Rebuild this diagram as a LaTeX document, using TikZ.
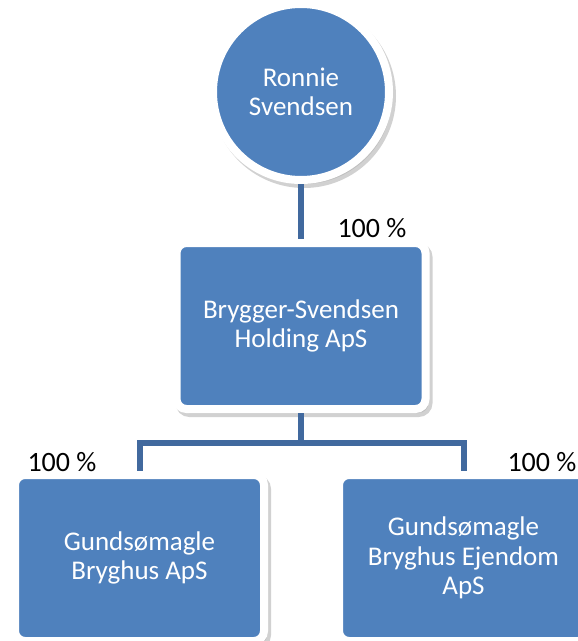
\documentclass[tikz,border=0pt]{standalone}
\usepackage{fontspec}
\setmainfont{Carlito}
\usetikzlibrary{shadows}
\definecolor{boxblue}{RGB}{79,129,189}
\definecolor{lineblue}{RGB}{65,105,158}

\begin{document}
\begin{tikzpicture}[x=1pt,y=-1pt,
  entity/.style={fill=boxblue,draw=white,line width=8pt,text=white,align=center,
    font=\fontsize{27}{29.5}\selectfont,
    drop shadow={draw=black,line width=8pt,shadow xshift=3pt,shadow yshift=-4pt,opacity=.18}},
  company/.style={entity,rectangle,rounded corners=10pt,minimum width=249pt,minimum height=166pt,inner sep=0pt},
  person/.style={entity,circle,minimum size=176pt,inner sep=0pt},
  owns/.style={draw=lineblue,line width=6pt},
  pct/.style={font=\fontsize{28}{30}\selectfont}]
\useasboundingbox (0,0) rectangle (578,641);

\node[person] (ronnie) at (301,92) {Ronnie\\Svendsen};
\node[company] (holding) at (301,326) {Brygger-Svendsen\\Holding ApS};
\node[company] (bryghus) at (139.5,558) {Gundsømagle\\Bryghus ApS};
\node[company] (ejendom) at (463.5,558) {Gundsømagle\\Bryghus Ejendom\\ApS};
\coordinate (split) at (301,443);

\draw[owns] (ronnie.south) -- (holding.north);
\draw[owns] (holding.south) -- (split) -| (bryghus.north);
\draw[owns] (split) -| (ejendom.north);

\node[pct] (topshare) at (372,228) {100 \%};
\node[pct] (leftshare) at (62,462) {100 \%};
\node[pct] (rightshare) at (542,462) {100 \%};
\end{tikzpicture}
\end{document}
